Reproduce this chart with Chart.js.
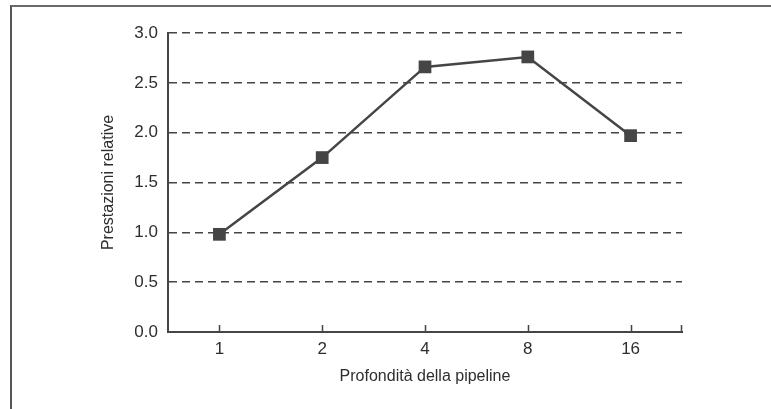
<!DOCTYPE html>
<html>
<head>
<meta charset="utf-8">
<script src="https://cdn.jsdelivr.net/npm/chart.js@4"></script>
<style>
  html, body { margin: 0; padding: 0; background: #fff; }
  #wrap { position: relative; width: 771px; height: 409px; }
  #frame {
    position: absolute; left: 10px; top: 5px; right: 0; bottom: -4px;
    border-left: 2px solid #555; border-top: 2px solid #6a6a6a;
  }
  canvas { position: absolute; left: 0; top: 0; }
</style>
</head>
<body>
<div id="wrap">
  <div id="frame"></div>
  <canvas id="grafico" width="771" height="409"></canvas>
</div>
<script>
// Profondità della pipeline (categorie dell'asse X)
const profondita = ['1', '2', '4', '8', '16'];
// Prestazioni relative
const prestazioni = [0.98, 1.75, 2.66, 2.76, 1.97];
// Etichette dell'asse Y
const tickY = [0, 0.5, 1.0, 1.5, 2.0, 2.5, 3.0];

const grigio = '#454545';
const testo = '#2e2e2e';
const font = "'Liberation Sans', Arial, sans-serif";

// Piccole tacche verso l'interno sull'asse X
const tacche = {
  id: 'tacche',
  afterDatasetsDraw(chart) {
    const x = chart.scales.x;
    const ctx = chart.ctx;
    const base = chart.chartArea.bottom;
    ctx.save();
    ctx.strokeStyle = grigio;
    ctx.lineWidth = 1.5;
    ctx.beginPath();
    profondita.forEach((p, i) => {
      const px = Math.round(x.getPixelForValue(i)) + 0.5;
      ctx.moveTo(px, base);
      ctx.lineTo(px, base - 7);
    });
    const r = Math.round(chart.chartArea.right) - 0.5;
    ctx.moveTo(r, base);
    ctx.lineTo(r, base - 7);
    ctx.stroke();
    ctx.restore();
  }
};

new Chart(document.getElementById('grafico').getContext('2d'), {
  type: 'line',
  data: {
    labels: profondita,
    datasets: [{
      data: prestazioni,
      borderColor: grigio,
      backgroundColor: grigio,
      borderWidth: 2.5,
      pointStyle: 'rect',
      pointRadius: 9,
      pointBorderWidth: 0,
      tension: 0,
      clip: false
    }]
  },
  options: {
    responsive: false,
    animation: false,
    layout: { padding: { left: 95, right: 89, top: 33, bottom: 19 } },
    plugins: { legend: { display: false }, tooltip: { enabled: false } },
    scales: {
      x: {
        offset: true,
        grid: { display: true, drawOnChartArea: false, drawTicks: false },
        border: { display: true, color: grigio, width: 2 },
        ticks: { color: testo, padding: 7, font: { family: font, size: 17 } },
        title: {
          display: true, text: 'Profondità della pipeline', color: testo,
          font: { family: font, size: 16 }, padding: { top: 0, bottom: 4 }
        },
        afterFit(scale) { scale.height = 58; }
      },
      y: {
        min: 0,
        max: 3,
        afterBuildTicks(scale) { scale.ticks = tickY.map(v => ({ value: v })); },
        grid: { color: grigio, lineWidth: 1.5, drawTicks: false },
        border: { display: true, color: grigio, width: 2, dash: [8, 5] },
        ticks: {
          color: testo, padding: 10, font: { family: font, size: 17 },
          callback: v => Number(v).toFixed(1)
        },
        title: {
          display: true, text: 'Prestazioni relative', color: testo,
          font: { family: font, size: 16 }, padding: { top: 4, bottom: 0 }
        },
        afterFit(scale) { scale.width = 73; }
      }
    }
  },
  plugins: [tacche]
});
</script>
</body>
</html>
